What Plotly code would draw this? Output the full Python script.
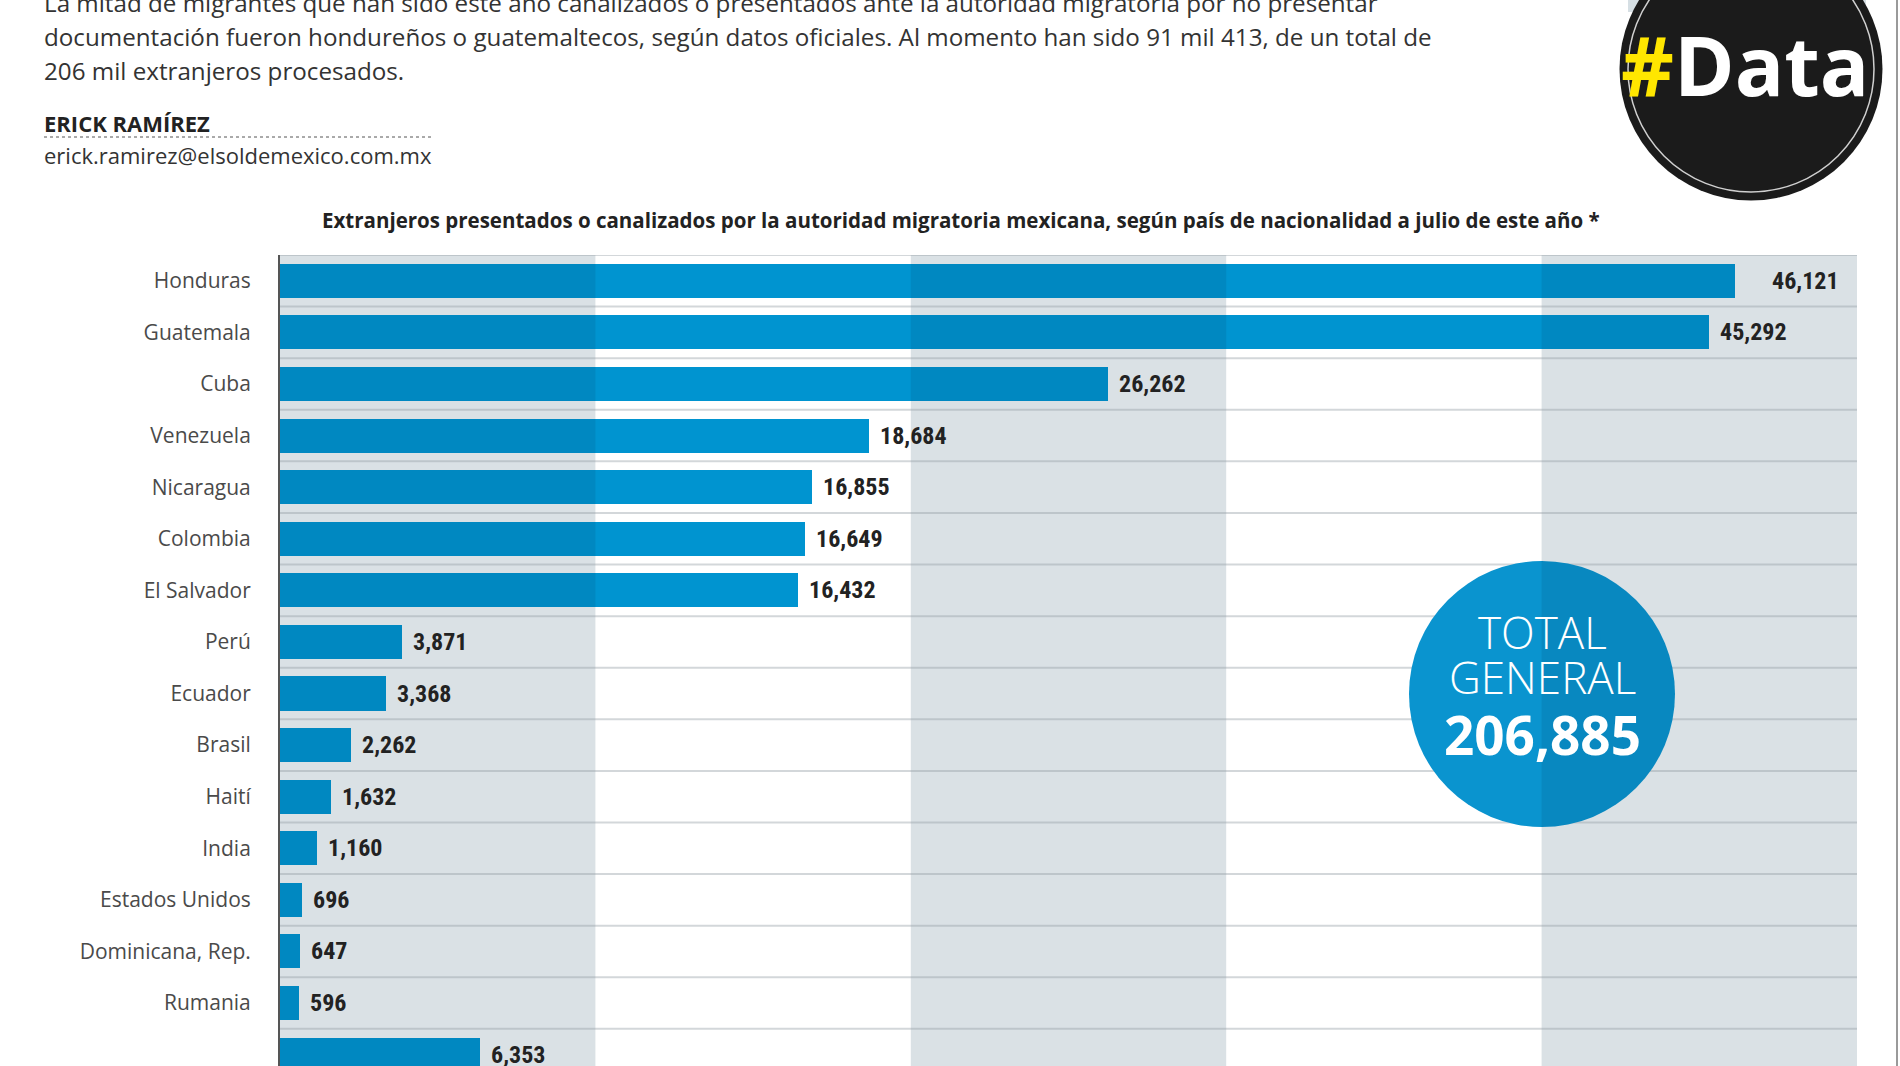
import plotly.graph_objects as go

# ---------------- data ----------------
countries = ["Honduras", "Guatemala", "Cuba", "Venezuela", "Nicaragua", "Colombia",
             "El Salvador", "Perú", "Ecuador", "Brasil", "Haití", "India",
             "Estados Unidos", "Dominicana, Rep.", "Rumania", "OTROS"]
values = [46121, 45292, 26262, 18684, 16855, 16649, 16432, 3871, 3368, 2262,
          1632, 1160, 696, 647, 596, 6353]
total_general = 206885

intro_lines = [
    "La mitad de migrantes que han sido este año canalizados o presentados ante la autoridad migratoria por no presentar",
    "documentación fueron hondureños o guatemaltecos, según datos oficiales. Al momento han sido 91 mil 413, de un total de",
    "206 mil extranjeros procesados.",
]
author = "ERICK RAMÍREZ"
email = "erick.ramirez@elsoldemexico.com.mx"
chart_title = ("Extranjeros presentados o canalizados por la autoridad migratoria mexicana, "
               "según país de nacionalidad a julio de este año *")
band_edges = [0, 10000, 20000, 30000, 40000, 50000]

# ---------------- layout geometry ----------------
W, H = 1900, 1066
ML, MR, MT, MB = 280, 43, 255, 0
PW, PH = W - ML - MR, H - MT - MB

def px(x):
    return (x - ML) / PW

def py(y):
    return (H - MB - y) / PH

FONT = "Open Sans, Noto Sans, sans-serif"
NARROW = "Liberation Sans Narrow, Roboto Condensed, Roboto, sans-serif"
BAR = "#0094d0"
n = len(countries)
idx = list(range(n))

fig = go.Figure()
fig.add_trace(go.Bar(
    y=idx, x=values, orientation="h", width=0.66,
    marker=dict(color=BAR, line=dict(width=0)),
    hoverinfo="skip", showlegend=False,
))

shapes = []
# alternating background columns
for k in range(len(band_edges) - 1):
    if k % 2 == 0:
        shapes.append(dict(type="rect", layer="below", xref="x", yref="paper",
                           x0=band_edges[k], x1=band_edges[k + 1], y0=0, y1=1,
                           fillcolor="#f3f7f8", line=dict(width=0)))
# row separators
for r in range(n):
    shapes.append(dict(type="line", layer="below", xref="paper", yref="y",
                       x0=0, x1=1, y0=r - 0.5, y1=r - 0.5,
                       line=dict(color="#d3d7da", width=2)))
# total circle
cx, cy, rr = 1542, 694, 133
shapes.append(dict(type="circle", layer="above", xref="paper", yref="paper",
                   x0=px(cx - rr), x1=px(cx + rr), y0=py(cy + rr), y1=py(cy - rr),
                   fillcolor="#0a94cf", line=dict(width=0)))
# darkening overlay on the grey columns (affects bars & circle)
for k in range(len(band_edges) - 1):
    if k % 2 == 0:
        shapes.append(dict(type="rect", layer="above", xref="x", yref="paper",
                           x0=band_edges[k], x1=band_edges[k + 1], y0=0, y1=1,
                           fillcolor="#002846", opacity=0.1, line=dict(width=0)))
# top-right light strip behind logo
shapes.append(dict(type="rect", layer="above", xref="paper", yref="paper",
                   x0=px(1628), x1=px(1866), y0=py(12), y1=py(0),
                   fillcolor="#d6dfe4", line=dict(width=0)))
# #Data logo
lx, ly, lr = 1751, 69, 131.5
shapes.append(dict(type="circle", layer="above", xref="paper", yref="paper",
                   x0=px(lx - lr), x1=px(lx + lr), y0=py(ly + lr), y1=py(ly - lr),
                   fillcolor="#1b1b1b", line=dict(width=0)))
lr2 = 123
shapes.append(dict(type="circle", layer="above", xref="paper", yref="paper",
                   x0=px(lx - lr2), x1=px(lx + lr2), y0=py(ly + lr2), y1=py(ly - lr2),
                   fillcolor="rgba(0,0,0,0)", line=dict(color="#d0d0d0", width=1.5)))
# right page border
shapes.append(dict(type="line", layer="above", xref="paper", yref="paper",
                   x0=px(1897), x1=px(1897), y0=py(H), y1=py(0),
                   line=dict(color="#9a9a9a", width=2)))
# dotted rule under author
shapes.append(dict(type="line", layer="above", xref="paper", yref="paper",
                   x0=px(44), x1=px(434), y0=py(137), y1=py(137),
                   line=dict(color="#555", width=1, dash="dot")))

ann = []
# value labels
for i, v in enumerate(values):
    if i == 0:
        ann.append(dict(x=band_edges[-1], y=i, xref="x", yref="y", text=f"{v:,}",
                        showarrow=False, xanchor="right", xshift=-16,
                        font=dict(family=NARROW, size=24, color="#222", weight="bold")))
    else:
        ann.append(dict(x=v, y=i, xref="x", yref="y", text=f"{v:,}",
                        showarrow=False, xanchor="left", xshift=9,
                        font=dict(family=NARROW, size=24, color="#222", weight="bold")))
# intro paragraph
for j, line in enumerate(intro_lines):
    ann.append(dict(x=px(42), y=py(2 + 34 * j), xref="paper", yref="paper", text=line,
                    showarrow=False, xanchor="left", yanchor="middle",
                    font=dict(family=FONT, size=24.2, color="#333")))
ann.append(dict(x=px(42), y=py(123), xref="paper", yref="paper", text=author,
                showarrow=False, xanchor="left", yanchor="middle",
                font=dict(family=FONT, size=22, color="#222", weight="bold")))
ann.append(dict(x=px(42), y=py(155), xref="paper", yref="paper", text=email,
                showarrow=False, xanchor="left", yanchor="middle",
                font=dict(family=FONT, size=22, color="#333")))
ann.append(dict(x=px(961), y=py(220), xref="paper", yref="paper", text=chart_title,
                showarrow=False, xanchor="center", yanchor="middle",
                font=dict(family=FONT, size=20.5, color="#222", weight="bold")))
# total circle text
ann.append(dict(x=px(cx), y=py(632), xref="paper", yref="paper", text="TOTAL",
                showarrow=False, xanchor="center", yanchor="middle",
                font=dict(family=FONT, size=44, color="white", weight=300)))
ann.append(dict(x=px(cx), y=py(677), xref="paper", yref="paper", text="GENERAL",
                showarrow=False, xanchor="center", yanchor="middle",
                font=dict(family=FONT, size=44, color="white", weight=300)))
ann.append(dict(x=px(cx), y=py(734), xref="paper", yref="paper", text=f"{total_general:,}",
                showarrow=False, xanchor="center", yanchor="middle",
                font=dict(family=FONT, size=53, color="white", weight="bold")))
# logo text
ann.append(dict(x=px(1745), y=py(64), xref="paper", yref="paper",
                text='<span style="color:#ffe600">#</span>Data',
                showarrow=False, xanchor="center", yanchor="middle",
                font=dict(family=FONT, size=82, color="white", weight="bold")))

fig.update_layout(
    width=W, height=H,
    margin=dict(l=ML, r=MR, t=MT, b=MB, pad=0),
    paper_bgcolor="white", plot_bgcolor="white",
    bargap=0, shapes=shapes, annotations=ann,
    xaxis=dict(range=[band_edges[0], band_edges[-1]], showgrid=False, zeroline=False,
               showticklabels=False, ticks="", fixedrange=True),
    yaxis=dict(range=[15.22, -0.5], tickvals=idx, ticktext=countries,
               showgrid=False, zeroline=False, ticks="", ticklabelstandoff=23,
               tickfont=dict(family=FONT, size=21, color="#4a4a4a"),
               showline=True, linecolor="#555", linewidth=2, fixedrange=True),
    font=dict(family=FONT),
)

fig.write_html("out.html", config={"displayModeBar": False},
               post_script="document.body.style.margin='0';document.body.style.overflow='hidden';")
